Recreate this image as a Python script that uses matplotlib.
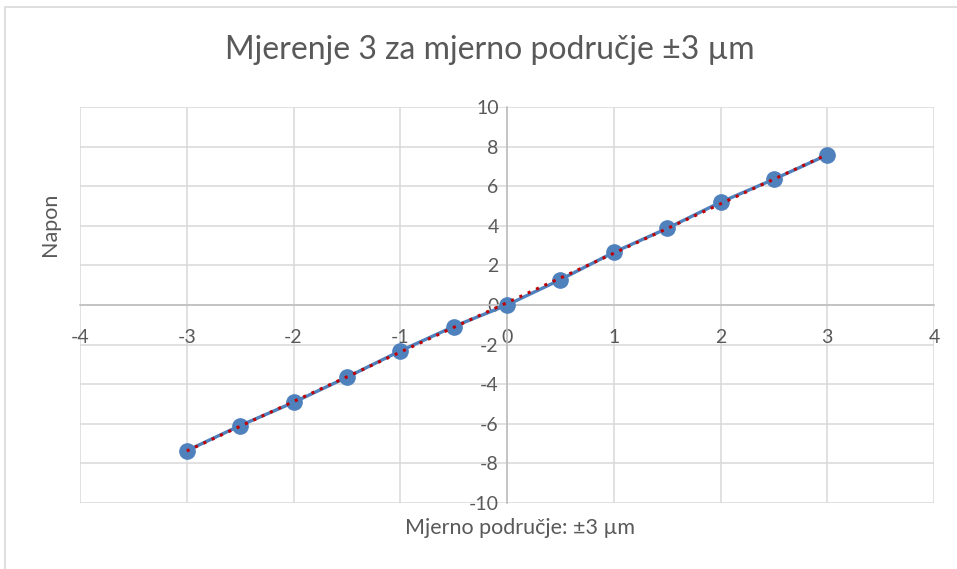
import matplotlib.pyplot as plt
import numpy as np
from matplotlib.patches import Rectangle

# measured points
pomak = [-3, -2.5, -2, -1.5, -1, -0.5, 0, 0.5, 1, 1.5, 2, 2.5, 3]
napon = [-7.36, -6.09, -4.92, -3.65, -2.32, -1.09, 0.0, 1.28, 2.66, 3.87, 5.19, 6.35, 7.58]

x_ticks = [-4, -3, -2, -1, 0, 1, 2, 3, 4]
y_ticks = [-10, -8, -6, -4, -2, 0, 2, 4, 6, 8, 10]

plt.rcParams['font.family'] = ['Lato', 'DejaVu Sans']

W, H = 957, 569
fig = plt.figure(figsize=(W / 100, H / 100), dpi=100)
ax = fig.add_axes([80 / W, 1 - 503 / H, (934 - 80) / W, (503 - 107) / H])

# outer chart border
fig.patches.append(Rectangle((5 / W, -0.1), 1.2, 1 - 7 / H + 0.1, transform=fig.transFigure,
                             fill=False, edgecolor='#d9d9d9', linewidth=1.2))

ax.plot(pomak, napon, color='#4f81bd', linewidth=2.4, marker='o', markersize=11, zorder=3)

# linear trendline
k, n = np.polyfit(pomak, napon, 1)
xs = np.array([pomak[0], pomak[-1]])
ax.plot(xs, k * xs + n, color='#c00000', linestyle=(0, (1, 2)), linewidth=2.2, zorder=4)

ax.set_xlim(-4, 4)
ax.set_ylim(-10, 10)
ax.set_xticks(x_ticks)
ax.set_yticks(y_ticks)
ax.grid(True, color='#d9d9d9', linewidth=1.1)
ax.set_axisbelow(True)

for side in ['top', 'right']:
    ax.spines[side].set_visible(False)
ax.spines['left'].set_position('zero')
ax.spines['bottom'].set_position('zero')
ax.spines['left'].set_color('#bfbfbf')
ax.spines['bottom'].set_color('#bfbfbf')
ax.spines['left'].set_linewidth(1.2)
ax.spines['bottom'].set_linewidth(1.2)

ax.tick_params(length=0, labelsize=14, colors='#595959')
ax.tick_params(axis='x', pad=17)
ax.tick_params(axis='y', pad=6)
ax.set_xticklabels([str(t) for t in x_ticks])
ax.set_yticklabels([str(t) for t in y_ticks])

fig.text(490 / W, 1 - 50 / H, 'Mjerenje 3 za mjerno područje ±3 µm', ha='center', va='center',
         fontsize=23, color='#595959')
fig.text(520 / W, 1 - 528 / H, 'Mjerno područje: ±3 µm', ha='center', va='center',
         fontsize=15.5, color='#595959')
fig.text(50 / W, 1 - 224 / H, 'Napon', ha='center', va='center', rotation=90,
         fontsize=15.5, color='#595959')

fig.savefig('out.png', dpi=100)
